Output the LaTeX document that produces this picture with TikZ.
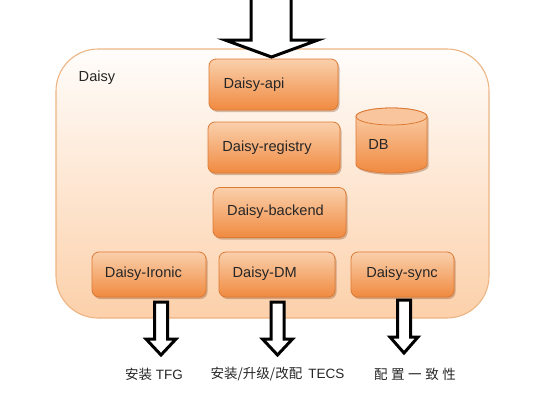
\documentclass[tikz,border=0pt]{standalone}
\usepackage{fontspec}
\setmainfont{Liberation Sans}
\newfontfamily\cjk{Noto Sans CJK SC}
\usetikzlibrary{shadows}
\definecolor{boxtop}{HTML}{FAD0AC}
\definecolor{boxbot}{HTML}{F08A40}
\definecolor{boxline}{HTML}{DC7A34}
\definecolor{contline}{HTML}{EDB584}
\definecolor{conttop}{HTML}{FFFDFB}
\definecolor{contbot}{HTML}{FCD0AA}
\definecolor{shadowc}{HTML}{8A4A20}
\begin{document}
\begin{tikzpicture}[x=1pt,y=-1pt,
  container/.style={draw=contline, line width=1.1pt, rounded corners=42pt,
    top color=conttop, bottom color=contbot},
  box/.style={draw=boxline, line width=0.8pt, rounded corners=7pt,
    top color=boxtop, bottom color=boxbot, inner sep=0pt,
    drop shadow={shadow xshift=1.5pt, shadow yshift=-2pt, opacity=0.35, fill=shadowc}},
  lbl/.style={inner sep=0pt, font=\fontsize{14.6}{17}\selectfont, text=black!85},
  outlbl/.style={inner sep=0pt, font=\fontsize{13.5}{16}\selectfont, text=black!85},
  blockarrow/.style={draw=black, line width=3pt, fill=white, line join=miter}
]
\useasboundingbox (0,0) rectangle (536,400);

% container
\path[container] (56,49) rectangle (489,318);
\node[lbl] (daisy) at (97,78) {Daisy};

% boxes
\node[box, minimum width=129pt, minimum height=51pt] (api) at (273.5,84.5) {};
\node[box, minimum width=132pt, minimum height=51pt] (registry) at (274,147.5) {};
\node[box, minimum width=133pt, minimum height=50pt] (backend) at (279.5,212.5) {};
\node[box, minimum width=114pt, minimum height=45pt] (ironic) at (149,274.5) {};
\node[box, minimum width=116pt, minimum height=45pt] (dm) at (277,274.5) {};
\node[box, minimum width=103pt, minimum height=45pt] (sync) at (402.5,274.5) {};

\node[lbl] (apit) at (254,85) {Daisy-api};
\node[lbl] (registryt) at (267,148) {Daisy-registry};
\node[lbl] (backendt) at (275.5,212) {Daisy-backend};
\node[lbl] (ironict) at (143.5,274) {Daisy-Ironic};
\node[lbl] (dmt) at (264.7,274) {Daisy-DM};
\node[lbl] (synct) at (402,274) {Daisy-sync};

% DB cylinder
\path[draw=boxline, line width=0.8pt, top color=boxtop, bottom color=boxbot,
  drop shadow={shadow xshift=1.5pt, shadow yshift=-2pt, opacity=0.35, fill=shadowc}]
  (356,116.5) -- (356,164.5)
  arc[start angle=180, end angle=360, x radius=35.5pt, y radius=8.5pt]
  -- (427,116.5)
  arc[start angle=0, end angle=180, x radius=35.5pt, y radius=8.5pt] -- cycle;
\path[draw=boxline, line width=0.8pt, fill=boxtop!85!boxbot]
  (391.5,116.5) ellipse[x radius=35.5pt, y radius=8.5pt];
\node[lbl] (db) at (378.5,144) {DB};

% top input arrow
\path[blockarrow] (251,-3) -- (251,40) -- (225,40) -- (271.5,57) -- (318,40)
  -- (291,40) -- (291,-3) -- cycle;

% output arrows
\path[blockarrow] (154.5,302) -- (154.5,339) -- (146,339) -- (161,355)
  -- (176,339) -- (167.5,339) -- (167.5,302) -- cycle;
\path[blockarrow] (271,302) -- (271,339) -- (262.5,339) -- (277.5,355)
  -- (292.5,339) -- (284,339) -- (284,302) -- cycle;
\path[blockarrow] (397.5,300) -- (397.5,337) -- (390,337) -- (404,353)
  -- (418,337) -- (410.5,337) -- (410.5,300) -- cycle;

% output labels
\node[outlbl] (o1) at (154,374) {{\cjk 安装} TFG};
\node[outlbl] (o2) at (277.5,374) {{\cjk 安装/升级/改配}\hspace{6pt}TECS};
\node[outlbl] (o3) at (415,374) {\cjk 配\hspace{3.6pt}置\hspace{3.6pt}一\hspace{3.6pt}致\hspace{3.6pt}性};
\end{tikzpicture}
\end{document}
